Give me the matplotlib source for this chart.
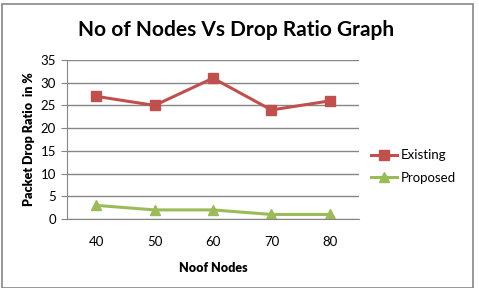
import matplotlib
matplotlib.use("Agg")
import matplotlib.pyplot as plt
from matplotlib.patches import Rectangle

nodes = ["40", "50", "60", "70", "80"]
existing = [27, 25, 31, 24, 26]
proposed = [3, 2, 2, 1, 1]
yticks = [0, 5, 10, 15, 20, 25, 30, 35]

plt.rcParams['font.family'] = ['Lato', 'DejaVu Sans']

fig = plt.figure(figsize=(4.79, 2.88), dpi=100)
W, H = 479, 288
ax = fig.add_axes([67 / W, 1 - 219 / H, (359 - 67) / W, (219 - 60) / H])

x = list(range(len(nodes)))
ax.plot(x, existing, color="#C0504D", lw=2.2, marker="s", ms=7, label="Existing")
ax.plot(x, proposed, color="#9BBB59", lw=2.2, marker="^", ms=7, label="Proposed")

ax.set_xlim(-0.5, len(nodes) - 0.5)
ax.set_ylim(0, 35)
ax.set_yticks(yticks)
ax.set_xticks(x)
ax.set_xticklabels(nodes)
ax.grid(axis="y", color="#868686", lw=1)
ax.set_axisbelow(True)
for s in ["top", "right"]:
    ax.spines[s].set_visible(False)
ax.spines["left"].set_color("#868686")
ax.spines["bottom"].set_color("#868686")
ax.tick_params(axis="y", length=4, color="#868686", labelsize=9.5, pad=4)
ax.tick_params(axis="x", length=0, labelsize=9.5, pad=12)

ax.set_xlabel("Noof Nodes", fontsize=9, fontweight="heavy", labelpad=10)
ax.set_ylabel("Packet Drop Ratio  in %", fontsize=9, fontweight="heavy", labelpad=4)

fig.text(236 / W, 1 - 30 / H, "No of Nodes Vs Drop Ratio Graph", ha="center", va="center",
         fontsize=15, fontweight="bold")

ax.legend(loc="center left", bbox_to_anchor=(1.0, 0.33), frameon=False, fontsize=9.5,
          handlelength=2.0, handletextpad=0.3, labelspacing=0.8)

fig.patches.append(Rectangle((1.5 / W, 0), (473 - 1.5) / W, 1 - 4 / H, transform=fig.transFigure,
                             fill=False, edgecolor="#868686", lw=1.2))

fig.savefig("out.png", dpi=100)
